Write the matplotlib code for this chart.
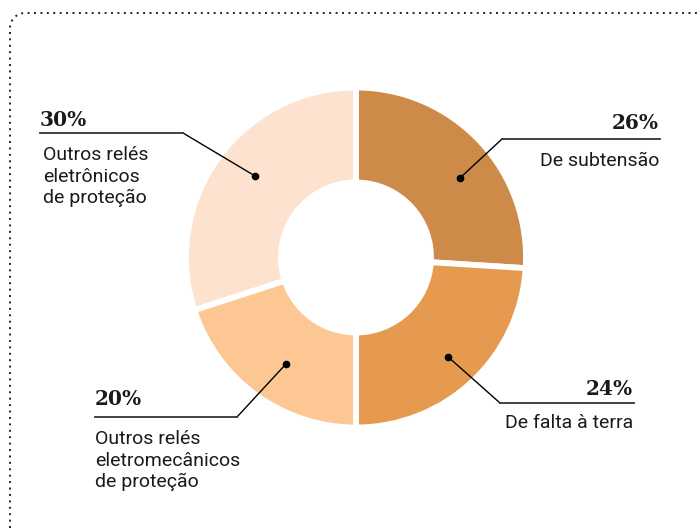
import numpy as np
import matplotlib
matplotlib.use("Agg")
import matplotlib.pyplot as plt

# ---- data ----
categories = ["De subtensão", "De falta à terra",
              "Outros relés\neletromecânicos\nde proteção",
              "Outros relés\neletrônicos\nde proteção"]
values = [26, 24, 20, 30]
pct_labels = ["26%", "24%", "20%", "30%"]
colors = ["#CD8A48", "#E59A50", "#FCC792", "#FDE3CF"]

W, H = 699, 528
fig = plt.figure(figsize=(W / 100, H / 100), dpi=100)
ax = fig.add_axes([0, 0, 1, 1])

def Y(p):
    return H - p

cx, cy = 356, Y(257.5)
R_out, R_in = 170, 75

ax.pie(values, colors=colors, startangle=90, counterclock=False,
       radius=R_out, center=(cx, cy),
       wedgeprops=dict(width=R_out - R_in, edgecolor="white", linewidth=4.2))
ax.set_xlim(0, W)
ax.set_ylim(0, H)
ax.set_aspect("auto")
ax.axis("off")

# ---- dotted frame (top + left, rounded corner) ----
r = 15
t = np.linspace(np.pi, np.pi / 2, 20)
xs = np.concatenate([[10], 10 + r + r * np.cos(t), [W]])
ys = np.concatenate([[Y(528)], Y(13 + r) + r * np.sin(t), [Y(13)]])
ax.plot(xs, ys, color="#222222", lw=1.4, linestyle=(0, (1, 2.3)),
        dash_capstyle="butt", solid_capstyle="butt")

# ---- annotations ----
sans = ["Roboto", "DejaVu Sans"]
serif = ["DejaVu Serif"]
txt_col = "#1a1a1a"

layout = [
    dict(ang=37.4, rad=131, ux=(502, 660), uy=139, lead=502, pb=129, tx=659, ha="right", tb=166),
    dict(ang=-47.2, rad=135, ux=(500, 634), uy=403, lead=500, pb=395, tx=633, ha="right", tb=428),
    dict(ang=236.7, rad=127, ux=(95, 237), uy=417, lead=237, pb=405, tx=95, ha="left", tb=444),
    dict(ang=141.1, rad=130, ux=(40, 183), uy=133, lead=183, pb=126, tx=43, ha="left", tb=160),
]

for cat, pl, L in zip(categories, pct_labels, layout):
    a = np.deg2rad(L["ang"])
    dx, dy = cx + L["rad"] * np.cos(a), cy + L["rad"] * np.sin(a)
    ax.plot([dx], [dy], "o", color="black", ms=4.5, zorder=5)
    ax.plot([dx, L["lead"]], [dy, Y(L["uy"])], color="black", lw=1.0, zorder=5)
    ax.plot(L["ux"], [Y(L["uy"])] * 2, color="#333333", lw=1.3, zorder=5)
    pct_x = L["ux"][1] - 1 if L["ha"] == "right" else L["ux"][0]
    ax.text(pct_x, Y(L["pb"]), pl, ha=L["ha"], va="baseline",
            family=serif, fontweight="bold", fontsize=14.5, color=txt_col)
    for i, line in enumerate(cat.split("\n")):
        ax.text(L["tx"], Y(L["tb"] + 21.5 * i), line, ha=L["ha"], va="baseline",
                family=sans, fontsize=14, color=txt_col)

fig.savefig("out.png", dpi=100)
